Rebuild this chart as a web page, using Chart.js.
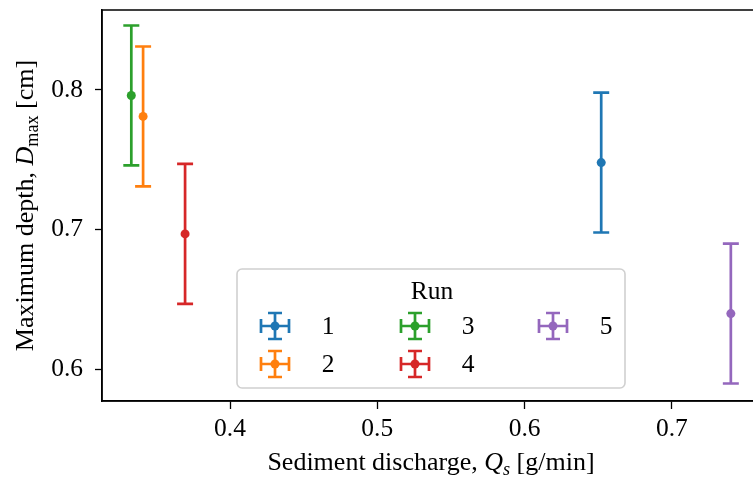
<!DOCTYPE html>
<html>
<head>
<meta charset="utf-8">
<script src="https://cdn.jsdelivr.net/npm/chart.js@4.4.1/dist/chart.umd.min.js"></script>
<style>
  html, body { margin: 0; padding: 0; background: #fff; overflow: hidden; }
  #wrap { width: 762px; height: 479px; }
</style>
</head>
<body>
<div id="wrap"><canvas id="chart"></canvas></div>
<script>
const runs = ['1', '2', '3', '4', '5'];
const sedimentDischarge = [0.652, 0.341, 0.333, 0.3695, 0.740];
const maxDepth = [0.748, 0.781, 0.796, 0.697, 0.640];
const maxDepthErr = [0.05, 0.05, 0.05, 0.05, 0.05];
const xTicks = [0.4, 0.5, 0.6, 0.7];
const yTicks = [0.6, 0.7, 0.8];

const colors = ['#1f77b4', '#ff7f0e', '#2ca02c', '#d62728', '#9467bd'];
const FONT = '"Liberation Serif", "DejaVu Serif", serif';
const FS = 25.5;
const TITLE_FS = 26;

// vertical error bars, drawn under each dataset's marker
const errorBars = {
  id: 'errorBars',
  beforeDatasetDraw(chart, args) {
    const i = args.index;
    const { ctx, scales: { x, y } } = chart;
    const px = x.getPixelForValue(sedimentDischarge[i]);
    const top = y.getPixelForValue(maxDepth[i] + maxDepthErr[i]);
    const bot = y.getPixelForValue(maxDepth[i] - maxDepthErr[i]);
    ctx.save();
    ctx.strokeStyle = colors[i];
    ctx.lineWidth = 2.7;
    ctx.beginPath();
    ctx.moveTo(px, top);
    ctx.lineTo(px, bot);
    ctx.moveTo(px - 8, top);
    ctx.lineTo(px + 8, top);
    ctx.moveTo(px - 8, bot);
    ctx.lineTo(px + 8, bot);
    ctx.stroke();
    ctx.restore();
  }
};

// draws a run of text pieces: [text, italic, sub]
function richText(ctx, parts, x, y) {
  let cx = x;
  parts.forEach(([t, italic, sub]) => {
    const size = sub ? TITLE_FS * 0.7 : TITLE_FS;
    ctx.font = `${italic ? 'italic ' : ''}${size}px ${FONT}`;
    ctx.fillText(t, cx, sub ? y + 5 : y);
    cx += ctx.measureText(t).width;
  });
}
function richWidth(ctx, parts) {
  let w = 0;
  parts.forEach(([t, italic, sub]) => {
    const size = sub ? TITLE_FS * 0.7 : TITLE_FS;
    ctx.font = `${italic ? 'italic ' : ''}${size}px ${FONT}`;
    w += ctx.measureText(t).width;
  });
  return w;
}

const frameAndLabels = {
  id: 'frameAndLabels',
  afterDraw(chart) {
    const { ctx, chartArea: a } = chart;
    ctx.save();
    ctx.strokeStyle = '#000';
    ctx.lineWidth = 1.5;
    ctx.strokeRect(a.left, a.top, a.right - a.left, a.bottom - a.top);

    ctx.fillStyle = '#000';
    ctx.textBaseline = 'alphabetic';
    const xParts = [['Sediment discharge, ', false, false], ['Q', true, false], ['s', true, true], [' [g/min]', false, false]];
    const xw = richWidth(ctx, xParts);
    richText(ctx, xParts, (a.left + a.right) / 2 - xw / 2, 470);

    const yParts = [['Maximum depth, ', false, false], ['D', true, false], ['max', false, true], [' [cm]', false, false]];
    const yw = richWidth(ctx, yParts);
    ctx.translate(33, (a.top + a.bottom) / 2);
    ctx.rotate(-Math.PI / 2);
    richText(ctx, yParts, -yw / 2, 0);
    ctx.restore();
  }
};

// matplotlib-style legend: title plus three columns, filled column-first
const runLegend = {
  id: 'runLegend',
  afterDraw(chart) {
    const { ctx } = chart;
    const box = { left: 237, top: 269, right: 625, bottom: 388 };
    ctx.save();
    ctx.fillStyle = 'rgba(255,255,255,0.8)';
    ctx.strokeStyle = '#d0d0d0';
    ctx.lineWidth = 1.6;
    ctx.beginPath();
    ctx.roundRect(box.left, box.top, box.right - box.left, box.bottom - box.top, 5);
    ctx.fill();
    ctx.stroke();

    ctx.fillStyle = '#000';
    ctx.font = `${FS}px ${FONT}`;
    ctx.textAlign = 'center';
    ctx.textBaseline = 'middle';
    ctx.fillText('Run', 432, 292);

    const colX = [275, 415, 553];
    const rowY = [326, 364];
    runs.forEach((r, i) => {
      const cx = colX[Math.floor(i / 2)];
      const cy = rowY[i % 2];
      ctx.strokeStyle = colors[i];
      ctx.lineWidth = 2.7;
      ctx.beginPath();
      ctx.moveTo(cx - 14, cy); ctx.lineTo(cx + 14, cy);
      ctx.moveTo(cx, cy - 13); ctx.lineTo(cx, cy + 13);
      ctx.moveTo(cx - 14, cy - 7); ctx.lineTo(cx - 14, cy + 7);
      ctx.moveTo(cx + 14, cy - 7); ctx.lineTo(cx + 14, cy + 7);
      ctx.moveTo(cx - 7, cy - 13); ctx.lineTo(cx + 7, cy - 13);
      ctx.moveTo(cx - 7, cy + 13); ctx.lineTo(cx + 7, cy + 13);
      ctx.stroke();
      ctx.fillStyle = colors[i];
      ctx.beginPath();
      ctx.arc(cx, cy, 4.5, 0, Math.PI * 2);
      ctx.fill();
      ctx.fillStyle = '#000';
      ctx.fillText(r, cx + 53, cy + 1);
    });
    ctx.restore();
  }
};

const ctx = document.getElementById('chart').getContext('2d');
new Chart(ctx, {
  type: 'scatter',
  data: {
    datasets: runs.map((r, i) => ({
      label: r,
      data: [{ x: sedimentDischarge[i], y: maxDepth[i] }],
      backgroundColor: colors[i],
      borderColor: colors[i],
      pointRadius: 4.5,
      pointBorderWidth: 0,
      pointHoverRadius: 4.5
    }))
  },
  options: {
    responsive: true,
    maintainAspectRatio: false,
    animation: false,
    events: [],
    layout: { autoPadding: false, padding: { top: 10, right: 2, left: 0, bottom: 0 } },
    plugins: {
      legend: { display: false },
      tooltip: { enabled: false }
    },
    scales: {
      x: {
        type: 'linear',
        min: 0.3131,
        max: 0.7598,
        afterFit(scale) {
          scale.height = 78;
          scale.paddingLeft = 0;
          scale.paddingRight = 0;
        },
        afterBuildTicks(scale) { scale.ticks = xTicks.map(v => ({ value: v })); },
        border: { display: true, color: '#000', width: 1.5 },
        grid: { drawOnChartArea: false, drawTicks: true, tickLength: 8, tickWidth: 1.3, tickColor: '#000' },
        ticks: {
          color: '#000',
          font: { family: FONT, size: FS },
          padding: 5,
          maxRotation: 0,
          callback: v => v.toFixed(1)
        }
      },
      y: {
        type: 'linear',
        min: 0.5775,
        max: 0.8571,
        afterFit(scale) {
          scale.width = 102;
          scale.paddingTop = 0;
          scale.paddingBottom = 0;
        },
        afterBuildTicks(scale) { scale.ticks = yTicks.map(v => ({ value: v })); },
        border: { display: true, color: '#000', width: 1.5 },
        grid: { drawOnChartArea: false, drawTicks: true, tickLength: 7, tickWidth: 1.3, tickColor: '#000' },
        ticks: {
          color: '#000',
          font: { family: FONT, size: FS },
          padding: 12,
          callback: v => v.toFixed(1)
        }
      }
    }
  },
  plugins: [errorBars, frameAndLabels, runLegend]
});
</script>
</body>
</html>
